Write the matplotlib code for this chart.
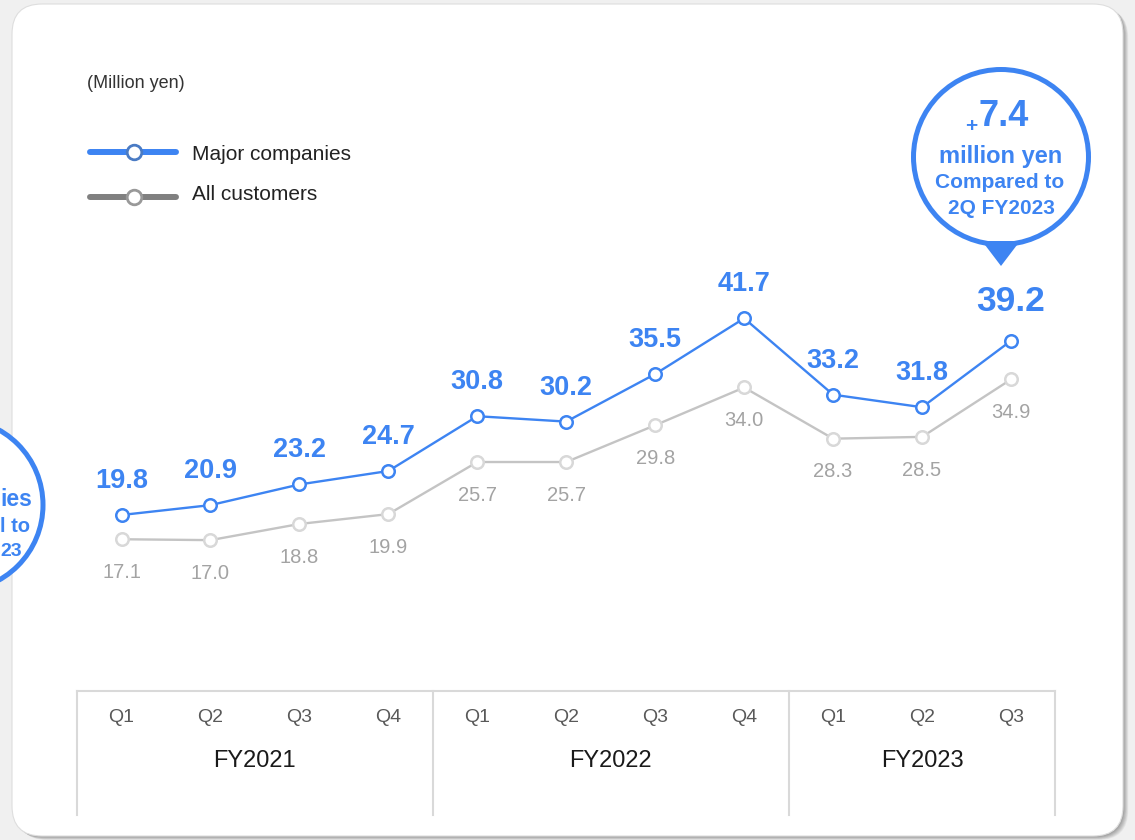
import matplotlib
matplotlib.use("Agg")
import matplotlib.pyplot as plt
from matplotlib.patches import FancyBboxPatch, Circle, Polygon
from matplotlib.transforms import blended_transform_factory

plt.rcParams['font.family'] = ['Liberation Sans', 'DejaVu Sans']

# Average sales per customer (million yen), quarterly
quarters = ["Q1", "Q2", "Q3", "Q4", "Q1", "Q2", "Q3", "Q4", "Q1", "Q2", "Q3"]
fiscal_years = ["FY2021", "FY2022", "FY2023"]
fy_sizes = [4, 4, 3]
major = [19.8, 20.9, 23.2, 24.7, 30.8, 30.2, 35.5, 41.7, 33.2, 31.8, 39.2]
all_cust = [17.1, 17.0, 18.8, 19.9, 25.7, 25.7, 29.8, 34.0, 28.3, 28.5, 34.9]

BLUE = "#3d84f2"
GRAY_LINE = "#c4c4c4"
GRAY_MARK = "#d8d8d8"
GRAY_TEXT = "#a3a3a3"
W, H = 1135, 840

fig = plt.figure(figsize=(W / 100, H / 100), dpi=100)
fig.patch.set_facecolor("#f0f0f0")

# pixel-space layer for card, table frame, legend and callouts
bg = fig.add_axes([0, 0, 1, 1])
bg.set_xlim(0, W)
bg.set_ylim(H, 0)
bg.axis("off")

# card with soft shadow on the right/bottom
for k in range(7):
    sh = FancyBboxPatch((12 + 1 + k * 0.7, 4 + 1 + k * 0.5), 1111, 832,
                        boxstyle="round,pad=0,rounding_size=30",
                        fc="#000000", ec="none", alpha=0.05, zorder=1)
    bg.add_patch(sh)
card = FancyBboxPatch((12, 4), 1111, 832, boxstyle="round,pad=0,rounding_size=30",
                      fc="white", ec="#dedede", lw=0.8, zorder=2)
bg.add_patch(card)

# data layer: x = quarter index, y = value
ax = fig.add_axes([0, 0, 1, 1], zorder=3)
ax.patch.set_alpha(0)
ax.axis("off")
x0, dx = 121.5, 88.95
y0, dy = 692.8, 8.98
ax.set_xlim(-x0 / dx, (W - x0) / dx)
ax.set_ylim((y0 - H) / dy, y0 / dy)

xs = list(range(len(quarters)))
ax.plot(xs, all_cust, color=GRAY_LINE, lw=1.7, marker="o", ms=9, mfc="white",
        mec=GRAY_MARK, mew=1.8, zorder=3)
ax.plot(xs, major, color=BLUE, lw=1.7, marker="o", ms=9, mfc="white",
        mec=BLUE, mew=1.8, zorder=4)

for i, v in enumerate(major):
    last = i == len(major) - 1
    ax.annotate(f"{v:.1f}", (i, v), xytext=(0, 28 if last else 24.5),
                textcoords="offset points", ha="center", va="center",
                fontsize=25.5 if last else 19.5, fontweight="bold", color=BLUE)
for i, v in enumerate(all_cust):
    ax.annotate(f"{v:.1f}", (i, v), xytext=(0, -24), textcoords="offset points",
                ha="center", va="center", fontsize=14.5, color=GRAY_TEXT)

# category table under the plot
tr = blended_transform_factory(ax.transData, bg.transData)
n = len(quarters)
ax.plot([-0.5, n - 0.5], [691, 691], color="#d9d9d9", lw=1.5, transform=tr, clip_on=False)
edges = [-0.5]
for s in fy_sizes:
    edges.append(edges[-1] + s)
for e in edges:
    ax.plot([e, e], [691, 815], color="#d9d9d9", lw=1.5, transform=tr, clip_on=False)
for i, q in enumerate(quarters):
    ax.text(i, 717, q, transform=tr, ha="center", va="center", fontsize=14, color="#595959")
for k, fy in enumerate(fiscal_years):
    ax.text((edges[k] + edges[k + 1]) / 2, 761, fy, transform=tr, ha="center",
            va="center", fontsize=17, color="#1a1a1a")

# unit and legend
bg.text(87, 83, "(Million yen)", ha="left", va="center", fontsize=13, color="#333333", zorder=5)
legend_items = [("Major companies", BLUE, "#4a7bc4", 152, 154),
                ("All customers", "#808080", "#999999", 197, 195)]
for label, lc, mc, ly, ty in legend_items:
    bg.plot([90, 176], [ly, ly], color=lc, lw=4.3, solid_capstyle="round", zorder=5)
    bg.plot([134], [ly], marker="o", ms=10.5, mfc="white", mec=mc, mew=2, zorder=6)
    bg.text(192, ty, label, ha="left", va="center", fontsize=15, color="#222222", zorder=6)

# callout on the right
bg.add_patch(Circle((1001, 157), 87.5, fc="white", ec=BLUE, lw=3.6, zorder=7))
bg.add_patch(Polygon([(982, 241), (1020, 241), (1001, 266)], closed=True,
                     fc=BLUE, ec="none", zorder=8))
bg.text(977, 126, "+", ha="right", va="center", fontsize=15, fontweight="bold", color=BLUE, zorder=9)
bg.text(978, 117, "7.4", ha="left", va="center", fontsize=26, fontweight="bold", color=BLUE, zorder=9)
bg.text(1001, 157, "million yen", ha="center", va="center", fontsize=17, fontweight="bold", color=BLUE, zorder=9)
bg.text(1000, 183, "Compared to", ha="center", va="center", fontsize=15, fontweight="bold", color=BLUE, zorder=9)
bg.text(1001, 208, "2Q FY2023", ha="center", va="center", fontsize=15, fontweight="bold", color=BLUE, zorder=9)

# callout on the left, mostly outside the frame: only its tail ends show
bg.add_patch(Circle((-43, 505), 86, fc="white", ec=BLUE, lw=3.6, zorder=7, clip_on=True))
bg.text(0.5, 499, "ies", ha="left", va="center", fontsize=16.5, fontweight="bold", color=BLUE, zorder=9)
bg.text(0.5, 526, "l to", ha="left", va="center", fontsize=14.5, fontweight="bold", color=BLUE, zorder=9)
bg.text(0.5, 551, "23", ha="left", va="center", fontsize=14, fontweight="bold", color=BLUE, zorder=9)

fig.savefig("out.png", dpi=100, facecolor=fig.get_facecolor())
